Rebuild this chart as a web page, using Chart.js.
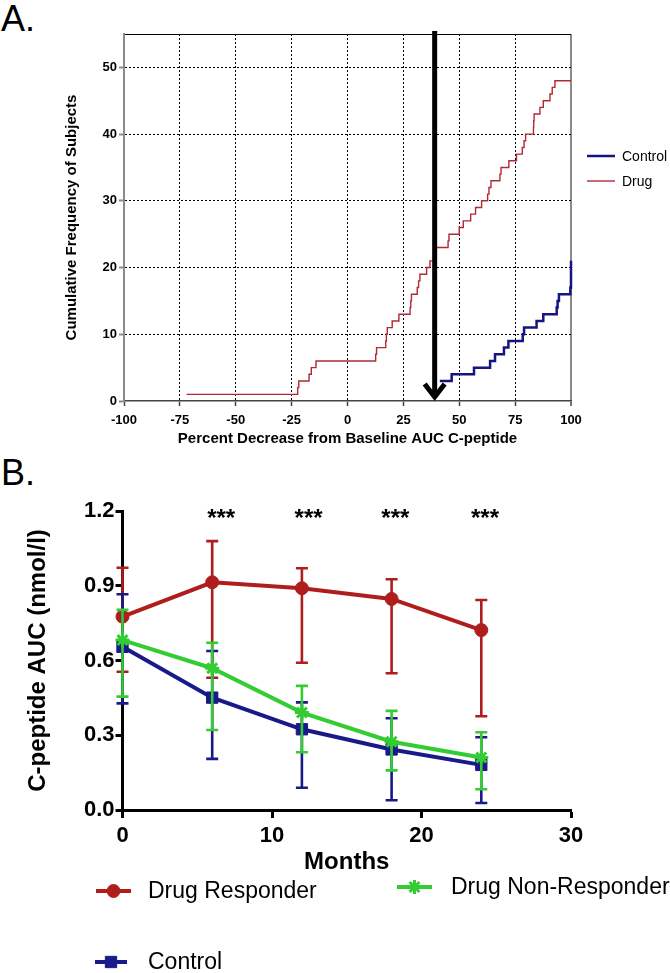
<!DOCTYPE html>
<html><head><meta charset="utf-8">
<script src="https://cdn.jsdelivr.net/npm/chart.js@4.4.1/dist/chart.umd.min.js"></script>
<style>
html,body{margin:0;padding:0;background:#fff;}
body{width:670px;height:973px;position:relative;overflow:hidden;font-family:"Liberation Sans",Arial,sans-serif;}
#c1{position:absolute;left:0;top:0;}
#c2{position:absolute;left:0;top:450px;}
.lab{position:absolute;font-size:36px;line-height:1;color:#000;}
</style></head><body>
<div class="lab" style="left:1px;top:1px">A.</div>
<div class="lab" style="left:1px;top:455px">B.</div>
<canvas id="c1" width="670" height="450"></canvas>
<canvas id="c2" width="670" height="523"></canvas>
<script>
const F = '"Liberation Sans", Arial, Helvetica, sans-serif';

// ---------- Panel A data ----------
const drugPct = [-72, -22.3, -21.8, -17.2, -16.2, -14.1, 12.6, 13.0, 17.1, 17.4, 17.8, 20.0, 23.0, 28.0, 28.3, 28.6, 31.2, 31.8, 32.4, 35.4, 36.9, 39.0, 39.6, 45.0, 45.4, 50.0, 51.8, 55.1, 57.3, 60.0, 62.7, 63.3, 64.2, 68.2, 68.7, 72.2, 75.6, 78.2, 79.0, 79.7, 83.2, 83.3, 83.5, 86.1, 87.6, 90.6, 91.6, 92.8, 100];
const drugCount = [1, 2, 3, 4, 5, 6, 7, 8, 9, 10, 11, 12, 13, 14, 15, 16, 17, 18, 19, 20, 21, 22, 23, 24, 25, 26, 27, 28, 29, 30, 31, 32, 33, 34, 35, 36, 37, 38, 39, 40, 41, 42, 43, 44, 45, 46, 47, 48, 48];
const controlPct = [41.3, 46.6, 56.6, 63.8, 66.0, 70.0, 72.0, 78.4, 79.0, 84.6, 87.6, 93.6, 94.0, 94.6, 99.7, 100];
const controlCount = [3, 4, 5, 6, 7, 8, 9, 10, 11, 12, 13, 14, 15, 16, 17, 21];
const xTicksA = [-100, -75, -50, -25, 0, 25, 50, 75, 100];
const yTicksA = [0, 10, 20, 30, 40, 50];
const arrowAt = 39;

// ---------- Panel B data ----------
const months = [0, 6, 12, 18, 24];
const responderMean  = [0.776, 0.914, 0.890, 0.847, 0.722];
const responderUpper = [0.972, 1.079, 0.970, 0.926, 0.843];
const responderLower = [0.555, 0.531, 0.591, 0.549, 0.376];
const nonRespMean    = [0.682, 0.569, 0.391, 0.274, 0.211];
const nonRespUpper   = [0.803, 0.671, 0.498, 0.398, 0.312];
const nonRespLower   = [0.455, 0.321, 0.232, 0.159, 0.083];
const controlMean    = [0.655, 0.451, 0.324, 0.243, 0.181];
const controlUpper   = [0.866, 0.638, 0.432, 0.368, 0.292];
const controlLower   = [0.428, 0.205, 0.089, 0.039, 0.028];
const xTicksB = [0, 10, 20, 30];
const yTicksB = [0, 0.3, 0.6, 0.9, 1.2];
const sigX = [6.6, 12.45, 18.25, 24.25];
const sigText = ['***', '***', '***', '***'];

const toXY = (xs, ys) => xs.map((x, i) => ({x: x, y: ys[i]}));
const setTicks = arr => (s => { s.ticks = arr.map(v => ({value: v})); });

// ---------- Panel A ----------
const arrowPlugin = {
  id: 'arrowA',
  afterDatasetsDraw(chart) {
    const {ctx} = chart; const xs = chart.scales.x, ys = chart.scales.y;
    const x = xs.getPixelForValue(arrowAt);
    const yTop = ys.top - 3, yBot = ys.getPixelForValue(0);
    ctx.save();
    ctx.strokeStyle = '#000'; ctx.lineWidth = 5; ctx.lineCap = 'butt'; ctx.lineJoin = 'miter';
    ctx.beginPath(); ctx.moveTo(x, yTop); ctx.lineTo(x, yBot - 3); ctx.stroke();
    ctx.beginPath(); ctx.moveTo(x - 10, yBot - 17); ctx.lineTo(x, yBot - 4); ctx.lineTo(x + 10, yBot - 17); ctx.stroke();
    ctx.restore();
  }
};
const legendA = {
  id: 'legendA',
  afterDraw(chart) {
    const {ctx} = chart;
    const rows = [{i: 0, y: 156}, {i: 1, y: 181}];
    ctx.save();
    ctx.font = '14px ' + F; ctx.textBaseline = 'middle'; ctx.fillStyle = '#000';
    rows.forEach(r => {
      const ds = chart.data.datasets[r.i];
      ctx.strokeStyle = ds.borderColor; ctx.lineWidth = ds.borderWidth;
      ctx.beginPath(); ctx.moveTo(587, r.y); ctx.lineTo(615, r.y); ctx.stroke();
      ctx.fillText(ds.label, 622, r.y + 1);
    });
    ctx.restore();
  }
};

new Chart(document.getElementById('c1'), {
  type: 'line',
  data: {
    datasets: [
      {label: 'Control', data: toXY(controlPct, controlCount), borderColor: '#15157f', borderWidth: 2.5, stepped: true, pointRadius: 0, fill: false, clip: 4},
      {label: 'Drug', data: toXY(drugPct, drugCount), borderColor: '#b02a35', borderWidth: 1.4, stepped: true, pointRadius: 0, fill: false}
    ]
  },
  options: {
    responsive: false, animation: false, devicePixelRatio: 1,
    layout: {padding: {top: 34, right: 99, left: 0, bottom: 0}},
    plugins: {legend: {display: false}, tooltip: {enabled: false}},
    scales: {
      x: {
        type: 'linear', min: -100, max: 100,
        afterBuildTicks: setTicks(xTicksA),
        ticks: {color: '#000', font: {family: F, size: 13, weight: 'bold'}, padding: 7, maxRotation: 0, autoSkip: false},
        grid: {
          color: c => (c.tick && c.tick.value === -100) ? 'rgba(0,0,0,0)' : (c.tick && c.tick.value === 100 ? '#8a8a8a' : '#000'),
          lineWidth: c => (c.tick && c.tick.value === 100) ? 2 : 1,
          tickColor: '#444', tickLength: 5, tickWidth: 1.5
        },
        border: {color: '#444', width: 1.5, dash: c => (c.type === 'tick' && c.tick && c.tick.value > -100 && c.tick.value < 100) ? [2, 2] : []},
        title: {display: true, text: 'Percent Decrease from Baseline AUC C-peptide', color: '#000', font: {family: F, size: 15, weight: 'bold'}, padding: {top: 0, bottom: 2}},
        afterFit: s => { s.height = 49; }
      },
      y: {
        type: 'linear', min: 0, max: 55,
        afterBuildTicks: s => { s.ticks = yTicksA.map(v => ({value: v})).concat([{value: 55}]); },
        ticks: {color: '#000', font: {family: F, size: 13, weight: 'bold'}, padding: 2, callback: v => (v === 55 ? '' : v)},
        grid: {
          color: c => (c.tick && c.tick.value === 0) ? 'rgba(0,0,0,0)' : '#000',
          lineWidth: 1,
          tickColor: c => (c.tick && c.tick.value === 55) ? 'rgba(0,0,0,0)' : '#8a8a8a', tickLength: 5, tickWidth: 2
        },
        border: {color: '#8a8a8a', width: 2, dash: c => (c.type === 'tick' && c.tick && c.tick.value > 0 && c.tick.value < 55) ? [2, 2] : []},
        title: {display: true, text: 'Cumulative Frequency of Subjects', color: '#000', font: {family: F, size: 15, weight: 'bold'}, padding: {top: 63, bottom: 0}},
        afterFit: s => { s.width = 124; }
      }
    }
  },
  plugins: [arrowPlugin, legendA]
});

// ---------- Panel B ----------
const errorBars = {
  id: 'errorBars',
  beforeDatasetDraw(chart, args) {
    const ds = chart.data.datasets[args.index];
    if (!ds.errLow) return;
    const {ctx} = chart; const xs = chart.scales.x, ys = chart.scales.y;
    ctx.save(); ctx.strokeStyle = ds.borderColor; ctx.lineWidth = 2.6; ctx.lineCap = 'butt';
    ds.data.forEach((p, i) => {
      const x = xs.getPixelForValue(p.x);
      const yh = ys.getPixelForValue(ds.errHigh[i]);
      const yl = ys.getPixelForValue(ds.errLow[i]);
      ctx.beginPath();
      ctx.moveTo(x, yh); ctx.lineTo(x, yl);
      ctx.moveTo(x - 6, yh); ctx.lineTo(x + 6, yh);
      ctx.moveTo(x - 6, yl); ctx.lineTo(x + 6, yl);
      ctx.stroke();
    });
    ctx.restore();
  }
};
const sigPlugin = {
  id: 'sig',
  afterDraw(chart) {
    const {ctx} = chart; const xs = chart.scales.x, ys = chart.scales.y;
    ctx.save(); ctx.font = 'bold 24px ' + F; ctx.fillStyle = '#000'; ctx.textAlign = 'center'; ctx.textBaseline = 'alphabetic';
    sigX.forEach((m, i) => ctx.fillText(sigText[i], xs.getPixelForValue(m), ys.getPixelForValue(1.2) + 15));
    ctx.restore();
  }
};
const legendB = {
  id: 'legendB',
  afterDraw(chart) {
    const {ctx} = chart;
    const items = [
      {i: 2, x0: 96, x1: 131, y: 441, tx: 148},
      {i: 0, x0: 397, x1: 432, y: 437, tx: 451},
      {i: 1, x0: 95, x1: 127, y: 512, tx: 148}
    ];
    ctx.save();
    items.forEach(it => {
      const ds = chart.data.datasets[it.i];
      ctx.strokeStyle = ds.borderColor; ctx.fillStyle = ds.pointBackgroundColor; ctx.lineWidth = ds.borderWidth;
      ctx.beginPath(); ctx.moveTo(it.x0, it.y); ctx.lineTo(it.x1, it.y); ctx.stroke();
      ctx.lineWidth = ds.pointBorderWidth;
      Chart.helpers.drawPoint(ctx, {pointStyle: ds.pointStyle, radius: ds.pointRadius, rotation: 0, borderWidth: ds.pointBorderWidth}, (it.x0 + it.x1) / 2, it.y);
      ctx.fillStyle = '#000'; ctx.font = '23px ' + F; ctx.textBaseline = 'middle';
      ctx.fillText(ds.label, it.tx, it.y + 1);
    });
    ctx.restore();
  }
};

const RED = '#b01d1d', NAVY = '#191989', GREEN = '#33cc33';
new Chart(document.getElementById('c2'), {
  type: 'line',
  data: {
    datasets: [
      {label: 'Drug Non-Responder', data: toXY(months, nonRespMean), errLow: nonRespLower, errHigh: nonRespUpper,
       borderColor: GREEN, backgroundColor: GREEN, pointBackgroundColor: GREEN, pointBorderColor: GREEN,
       borderWidth: 4, pointStyle: 'star', pointRadius: 7, pointBorderWidth: 3, clip: false, tension: 0},
      {label: 'Control', data: toXY(months, controlMean), errLow: controlLower, errHigh: controlUpper,
       borderColor: NAVY, backgroundColor: NAVY, pointBackgroundColor: NAVY, pointBorderColor: NAVY,
       borderWidth: 4, pointStyle: 'rect', pointRadius: 8, pointBorderWidth: 1, clip: false, tension: 0},
      {label: 'Drug Responder', data: toXY(months, responderMean), errLow: responderLower, errHigh: responderUpper,
       borderColor: RED, backgroundColor: RED, pointBackgroundColor: RED, pointBorderColor: RED,
       borderWidth: 4, pointStyle: 'circle', pointRadius: 6.5, pointBorderWidth: 1, clip: false, tension: 0}
    ]
  },
  options: {
    responsive: false, animation: false, devicePixelRatio: 1,
    layout: {padding: {top: 61, right: 99, left: 0, bottom: 93}},
    plugins: {legend: {display: false}, tooltip: {enabled: false}},
    scales: {
      x: {
        type: 'linear', min: 0, max: 30,
        afterBuildTicks: setTicks(xTicksB),
        ticks: {color: '#000', font: {family: F, size: 22, weight: 'bold'}, padding: 5, maxRotation: 0, autoSkip: false},
        grid: {drawOnChartArea: false, color: '#000', tickColor: '#000', tickLength: 8, tickWidth: 3},
        border: {color: '#000', width: 3},
        title: {display: true, text: 'Months', color: '#000', font: {family: F, size: 24, weight: 'bold'}, padding: {top: 0, bottom: 3}},
        afterFit: s => { s.height = 70; }
      },
      y: {
        type: 'linear', min: 0, max: 1.2,
        afterBuildTicks: setTicks(yTicksB),
        ticks: {color: '#000', font: {family: F, size: 22, weight: 'bold'}, padding: 1, callback: v => Number(v).toFixed(1)},
        grid: {drawOnChartArea: false, color: '#000', tickColor: '#000', tickLength: 7, tickWidth: 3},
        border: {color: '#000', width: 3},
        title: {display: true, text: 'C-peptide AUC (nmol/l)', color: '#000', font: {family: F, size: 24, weight: 'bold'}, padding: {top: 24, bottom: 0}},
        afterFit: s => { s.width = 122.5; }
      }
    }
  },
  plugins: [errorBars, sigPlugin, legendB]
});
</script>
</body></html>
